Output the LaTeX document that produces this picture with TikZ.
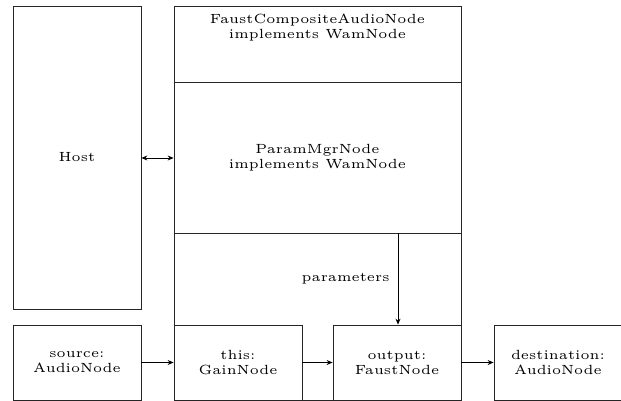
\documentclass[tikz,border=0pt]{standalone}
\usepackage{fontspec}
\setmainfont{lmroman5-regular}[Extension=.otf]
\usetikzlibrary{arrows.meta}
\begin{document}
\begin{tikzpicture}[x=1pt,y=-1pt,
  box/.style={draw=black!85,line width=0.8pt,minimum width=#1,minimum height=75pt,inner sep=0pt,align=center},
  box/.default=128pt,
  txt/.style={align=center,inner sep=0pt},
  conn/.style={line width=0.8pt,-{Stealth[length=6pt,width=5pt]}},
  every node/.append style={font=\fontsize{13.3}{15}\selectfont}]
\useasboundingbox (0,0) rectangle (621,401);
\node[box,minimum height=303pt] (host) at (77,157.5) {Host};
\node[box=287pt,minimum height=394pt] (outer) at (317.5,203) {};
\node[txt] (title) at (317.5,27.5) {FaustCompositeAudioNode\\implements WamNode};
\node[box=287pt,minimum height=151pt] (param) at (317.5,157.5) {ParamMgrNode\\implements WamNode};
\node[box] (source) at (77,362.5) {source:\\AudioNode};
\node[box] (gain) at (238,362.5) {this:\\GainNode};
\node[box] (output) at (397,362.5) {output:\\FaustNode};
\node[box] (dest) at (558,362.5) {destination:\\AudioNode};
\draw[conn,{Stealth[length=6pt,width=5pt]}-{Stealth[length=6pt,width=5pt]}] (host.east |- 0,158) -- (param.west |- 0,158);
\draw[conn] (source) -- (gain);
\draw[conn] (gain) -- (output);
\draw[conn] (output) -- (dest);
\draw[conn] (param.south -| 398,0) -- node[txt,left=8pt] {parameters} (output.north -| 398,0);
\end{tikzpicture}
\end{document}
